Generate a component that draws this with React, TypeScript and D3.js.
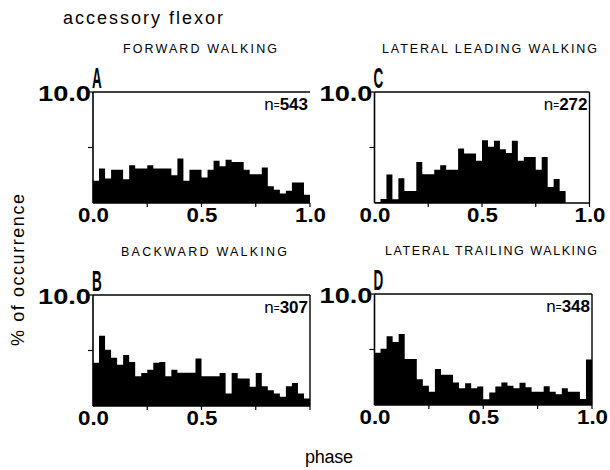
import React from 'react';
import * as d3 from 'd3';

// percent of occurrence per phase bin (36 bins of 10 deg)
const forward = [2.0, 3.1, 2.2, 3.0, 3.0, 2.15, 3.4, 3.1, 3.1, 3.4, 3.1, 3.1, 3.1, 2.5, 4.0, 2.0, 3.0, 3.0, 2.3, 3.0, 3.8, 3.3, 3.9, 3.7, 3.7, 3.0, 2.6, 2.6, 3.2, 1.5, 1.2, 0.85, 1.1, 1.85, 1.85, 0.75];
const lateralLeading = [0.1, 0.36, 2.56, 0.33, 2.23, 1.08, 1.08, 3.7, 2.59, 2.59, 3.0, 3.4, 3.0, 3.0, 4.9, 4.46, 4.46, 3.8, 5.66, 5.06, 5.6, 4.85, 4.5, 5.6, 3.8, 4.15, 4.15, 3.0, 4.15, 1.45, 2.17, 1.08, 0, 0, 0, 0];
const backward = [3.9, 6.34, 5.06, 4.35, 3.72, 4.6, 3.96, 2.68, 2.98, 3.27, 3.9, 3.96, 2.68, 3.27, 3.0, 3.0, 3.0, 4.29, 2.68, 2.68, 2.68, 2.98, 1.13, 2.98, 2.47, 2.47, 1.73, 2.98, 1.79, 1.43, 1.13, 0.83, 1.79, 2.08, 1.13, 0.68];
const lateralTrailing = [4.7, 5.06, 6.2, 5.67, 6.4, 4.15, 4.15, 2.33, 1.73, 1.2, 3.24, 2.73, 2.73, 2.03, 1.5, 1.97, 1.5, 1.67, 0.52, 1.12, 1.67, 2.03, 1.73, 1.5, 2.0, 1.6, 1.2, 1.2, 1.7, 1.2, 0.97, 1.5, 1.2, 1.2, 0.55, 4.1];

const panelTitles = ['FORWARD WALKING', 'LATERAL LEADING WALKING', 'BACKWARD WALKING', 'LATERAL TRAILING WALKING'];
const panelLetters = ['A', 'C', 'B', 'D'];
const sampleSizes = [543, 272, 307, 348];
const xTickLabels = ['0.0', '0.5', '1.0'];
const yTickLabel = '10.0';

const FONT = '"Liberation Sans", Arial, sans-serif';

type PanelProps = {
  values: number[];
  left: number;
  top: number;
  width: number;
  height: number;
  title: string;
  titleX: number;
  titleLen: number;
  letter: string;
  n: number;
  rightBorder: boolean;
  showLastLabel: boolean;
};

const Panel = ({ values, left, top, width, height, title, titleX, titleLen, letter, n, rightBorder, showLastLabel }: PanelProps) => {
  const x = d3.scaleLinear().domain([0, 1]).range([left, left + width]);
  const y = d3.scaleLinear().domain([0, 10]).range([top + height, top]);
  const m = values.length;
  const pts: [number, number][] = values.map((v, i) => [i / m, v]);
  pts.push([1, values[m - 1]]);
  const area = d3.area<[number, number]>()
    .x(d => x(d[0]))
    .y0(y(0))
    .y1(d => y(d[1]))
    .curve(d3.curveStepAfter);

  const labels = showLastLabel ? xTickLabels : xTickLabels.slice(0, 2);
  const labelVals = [0, 0.5, 1];

  return (
    <g>
      <text x={titleX} y={top - 39} fontFamily={FONT} fontSize={12.5} textLength={titleLen} lengthAdjust="spacing">{title}</text>
      <text transform={`translate(${left - 1},${top - 4}) scale(0.45,1)`} fontFamily={FONT} fontWeight="bold" fontSize={30}>{letter}</text>
      <path d={area(pts) || ''} fill="#000" />
      {/* frame */}
      <line x1={x(0)} x2={x(0)} y1={y(0)} y2={y(10)} stroke="#000" strokeWidth={1.6} />
      <line x1={x(0)} x2={x(1)} y1={y(10)} y2={y(10)} stroke="#000" strokeWidth={1.4} />
      <line x1={x(0)} x2={x(1)} y1={y(0)} y2={y(0)} stroke="#000" strokeWidth={1.6} />
      {rightBorder && <line x1={x(1)} x2={x(1)} y1={y(0)} y2={y(10)} stroke="#000" strokeWidth={1.4} />}
      {[5, 10].map(t => (
        <line key={t} x1={x(0) - 5} x2={x(0)} y1={y(t)} y2={y(t)} stroke="#000" strokeWidth={1.2} />
      ))}
      {[0.25, 0.5, 0.75, 1].map(t => (
        <line key={t} x1={x(t)} x2={x(t)} y1={y(0)} y2={y(0) + 4} stroke="#000" strokeWidth={1.2} />
      ))}
      <text x={x(0) - 2} y={y(10) + 9} textAnchor="end" fontFamily={FONT} fontWeight="bold" fontSize={22} textLength={53} lengthAdjust="spacingAndGlyphs">{yTickLabel}</text>
      {labels.map((l, i) => (
        <text key={l} x={x(labelVals[i]) - 15} y={y(0) + 19} fontFamily={FONT} fontWeight="bold" fontSize={20} textLength={31} lengthAdjust="spacingAndGlyphs">{l}</text>
      ))}
      <text x={x(1) - 2} y={y(10) + 18} textAnchor="end" fontFamily={FONT} fontSize={17}>
        <tspan>n</tspan><tspan fontSize={10} dy={-1}>=</tspan><tspan fontWeight="bold" dy={1}>{n}</tspan>
      </text>
    </g>
  );
};

const App = () => {
  const series = [forward, lateralLeading, backward, lateralTrailing];
  const lefts = [93, 374.5, 93, 374.5];
  const tops = [92, 92, 295, 294];
  const widths = [217, 215, 217, 217.5];
  const titleXs = [123, 382, 121, 385];
  const titleLens = [154, 215, 166, 212];
  return (
    <svg width={610} height={470} style={{ position: 'absolute', left: 0, top: 0, background: '#fff' }}>
      <rect width={610} height={470} fill="#fff" />
      <text x={63} y={24} fontFamily={FONT} fontSize={18} textLength={160} lengthAdjust="spacing">accessory flexor</text>
      {series.map((s, i) => (
        <Panel
          key={i}
          values={s}
          left={lefts[i]}
          top={tops[i]}
          width={widths[i]}
          height={111}
          title={panelTitles[i]}
          titleX={titleXs[i]}
          titleLen={titleLens[i]}
          letter={panelLetters[i]}
          n={sampleSizes[i]}
          rightBorder={i !== 0}
          showLastLabel={i !== 2}
        />
      ))}
      <text transform="translate(24,270) rotate(-90)" textAnchor="middle" fontFamily={FONT} fontSize={18} textLength={152} lengthAdjust="spacing">% of occurrence</text>
      <text x={305} y={463} fontFamily={FONT} fontSize={18} textLength={48} lengthAdjust="spacing">phase</text>
    </svg>
  );
};

export default App;
